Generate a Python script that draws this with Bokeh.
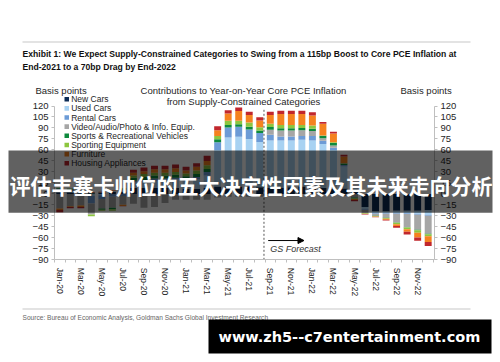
import numpy as np
from bokeh.plotting import figure
from bokeh.models import Range1d, LinearAxis, FixedTicker, BoxAnnotation, Label, Arrow, NormalHead
from bokeh.embed import file_html
from bokeh.resources import INLINE

months = ["Jan-20", "Feb-20", "Mar-20", "Apr-20", "May-20", "Jun-20", "Jul-20", "Aug-20", "Sep-20",
          "Oct-20", "Nov-20", "Dec-20", "Jan-21", "Feb-21", "Mar-21", "Apr-21", "May-21", "Jun-21",
          "Jul-21", "Aug-21", "Sep-21", "Oct-21", "Nov-21", "Dec-21", "Jan-22", "Feb-22", "Mar-22",
          "Apr-22", "May-22", "Jun-22", "Jul-22", "Aug-22", "Sep-22", "Oct-22", "Nov-22", "Dec-22"]

categories = ["New Cars", "Used Cars", "Rental Cars", "Video/Audio/Photo & Info. Equip.",
              "Sports & Recreational Vehicles", "Sporting Equipment", "Furniture", "Housing Appliances"]

new_cars = [2, 2, 1, 1, 2, 3, 3, 8, 8, 8, 8, 8, 7, 7, 8, 10, 10, 10, 10, 9, 8, 8, 9, 10,
            10, 8, 7, 7.5, 3, -18, -24, -24, -23, -23, -23, -22]
used_cars = [3, 2, 2, -3, -2, 1, 3, 8, 9, 10, 11, 12, 11, 13, 17, 50, 67, 68, 65, 62, 65, 65, 64, 64,
             63, 60, 53, 30, 5, -3, -2, -2, -3, -3.5, -4, -6.5]
rental_cars = [2, 2, 0, -10, -5, -4, -3, 2, 2, 3, 2, 2, 2, 3, 5, 10.5, 13.6, 13.6, 13, 12, 7.7, 5.5, 5.5, 5,
               6, 4.5, 3, 2, 1, -1, -1, -1, -1, -1, -1.5, -1.5]
video_audio = [-20, -17, -16, -15, -13, -15, -12, -13.5, -19, -18, -12.5, -8, -8, -8, -8, -5, -4, -4, -4, -4,
               7, 8, 8, 8, 7, 3.6, 3, -3, -5, -4, -3, -5.5, -12, -18, -20.5, -24.5]
sports_rec = [1, 1, 1, 0.5, -1.5, -2, 1, 4, 4, 4, 4, 4, 4, 4, 4, 4, 3.6, 3.6, 3.6, 3.6, 3.6, 3, 3, 3,
              3, 3.2, 3.5, 2, -1, -0.5, -0.5, -0.5, -0.5, -0.5, -0.5, -0.5]
sporting_eq = [0.5, 0.5, 0, -2.5, -1.5, -2, 1, 3, 4, 4, 4, 4, 4, 5, 5, 4.5, 5.5, 4.5, 6, 4.5, 4.5, 4.5, 4.5, 4,
               4.5, 0.5, 1, 0.5, -1, -0.5, -0.5, -1, -2, -2.3, -3.5, -2.7]
furniture = [-2, -1, -2, 0.5, 0.5, 0.5, -1.5, 4, 4, 4.5, 4.5, 5, 4, 5, 6, 8, 10, 13.6, 10, 9, 12, 15, 15, 15,
             13.6, 15.9, 12, 9, -1.5, -0.5, -0.5, -1.2, -2.5, -3.5, -6.5, -8]
housing_app = [-3, -1.5, -1.5, 0.5, 0.5, 0.5, -0.5, 4, 5, 5, 5, 5, 5, 5, 7, 5.5, 4.5, 4.5, 4.5, 4.5, 4.5, 4.5, 4.5, 4.5,
               4.5, 2.3, 2.3, 2.5, -1.5, -0.5, -0.5, -1.2, -2.4, -3.5, -4.5, -5.5]

series = [new_cars, used_cars, rental_cars, video_audio, sports_rec, sporting_eq, furniture, housing_app]
colors = ["#0c2c56", "#a8d2f2", "#6c9bd6", "#a6a6a6", "#0e8a3d", "#8dc63f", "#f5821f", "#c1272d"]

y_ticks = list(range(-90, 121, 15))
forecast_start = 19.4

FONT = "Liberation Sans"
W, H = 500, 362

# data area: x -0.5..35.6 spans page px 54..434 ; y -90..120 spans page px 259.3..105.5
XL, XR, PXL, PXR = -0.5, 35.6, 54.0, 434.0
YB, YT, PYB, PYT = -90.0, 120.0, 259.3, 105.5
kx = (XR - XL) / (PXR - PXL)
ky = (YT - YB) / (PYB - PYT)
x_range = Range1d(XL - PXL * kx, XR + (W - PXR) * kx)
y_range = Range1d(YB - (H - PYB) * ky, YT + PYT * ky)

p = figure(width=W, height=H, output_backend="svg", toolbar_location=None,
           x_range=x_range, y_range=y_range,
           min_border_left=0, min_border_right=0, min_border_top=0, min_border_bottom=0,
           x_axis_location=None, y_axis_location=None)
p.outline_line_color = None
p.grid.visible = False
p.background_fill_color = "white"
p.border_fill_color = "white"

x = np.arange(len(months))
pos_base = np.zeros(len(months))
neg_base = np.zeros(len(months))
for vals, col in zip(series, colors):
    v = np.array(vals, dtype=float)
    bottom = np.where(v >= 0, pos_base, neg_base + v)
    top = np.where(v >= 0, pos_base + v, neg_base)
    p.vbar(x=x, bottom=bottom, top=top, width=0.66, fill_color=col, line_color=None)
    pos_base = pos_base + np.clip(v, 0, None)
    neg_base = neg_base + np.clip(v, None, 0)

# forecast marker
p.segment(x0=[forecast_start], y0=[YB], x1=[forecast_start], y1=[117],
          line_color="#555555", line_dash="2 2", line_width=1)
p.add_layout(Arrow(end=NormalHead(size=6, fill_color="black", line_color="black"),
                   x_start=forecast_start + 0.4, y_start=-63.7, x_end=forecast_start + 3.8, y_end=-63.7,
                   line_color="black", line_width=1))
p.add_layout(Label(x=forecast_start + 0.6, y=-75.9, text="GS Forecast", text_font=FONT,
                   text_font_size="9px", text_font_style="italic", text_color="#333333",
                   text_baseline="middle", text_align="left"))

# axes (fixed inside the frame)
axis_col = "#bfbfbf"
xa = LinearAxis(fixed_location=YB, bounds=(XL, XR))
xa.ticker = FixedTicker(ticks=list(range(0, len(months), 2)),
                        minor_ticks=[i - 0.5 for i in range(len(months) + 1)])
xa.major_label_overrides = {i: months[i] for i in range(0, len(months), 2)}
xa.major_label_orientation = "vertical"
xa.major_tick_out = 0
xa.major_tick_in = 0
xa.minor_tick_out = 3
xa.minor_tick_in = 0
xa.minor_tick_line_color = axis_col
xa.axis_line_color = axis_col
xa.major_label_text_font = FONT
xa.major_label_text_font_size = "8.5px"
xa.major_label_text_color = "#262626"
xa.major_label_standoff = 5
p.add_layout(xa, "below")

la = LinearAxis(fixed_location=XL)
ra = LinearAxis(fixed_location=XR)
p.add_layout(la, "left")
p.add_layout(ra, "right")
for ax in (la, ra):
    ax.ticker = FixedTicker(ticks=y_ticks)
    ax.bounds = (YB, YT)
    ax.axis_line_color = axis_col
    ax.major_tick_line_color = axis_col
    ax.major_tick_out = 3
    ax.major_tick_in = 0
    ax.minor_tick_out = 0
    ax.minor_tick_in = 0
    ax.major_label_text_font = FONT
    ax.major_label_text_font_size = "9.5px"
    ax.major_label_text_color = "#262626"
    ax.major_label_standoff = 3


def lab(px, py, text, **kw):
    opts = dict(text_font=FONT, text_font_size="9.5px", text_color="#262626",
                text_baseline="middle", text_align="left")
    opts.update(kw)
    p.add_layout(Label(x=px, y=H - py, x_units="screen", y_units="screen", text=text, **opts))


def box(l, r, t, b, color, alpha=1.0):
    p.add_layout(BoxAnnotation(left=l, right=r, top=H - t, bottom=H - b,
                               left_units="screen", right_units="screen",
                               top_units="screen", bottom_units="screen",
                               fill_color=color, fill_alpha=alpha, line_color=None))


# header
box(22, 470, 41, 42, "#c8c8c8")
lab(22, 53.5, "Exhibit 1: We Expect Supply-Constrained Categories to Swing from a 115bp Boost to Core PCE Inflation at",
    text_font_size="8.6px", text_font_style="bold", text_color="#111111")
lab(22, 66.7, "End-2021 to a 70bp Drag by End-2022",
    text_font_size="8.6px", text_font_style="bold", text_color="#111111")
lab(35, 90, "Basis points")
lab(400, 90, "Basis points")
lab(243, 90, "Contributions to Year-on-Year Core PCE Inflation", text_align="center")
lab(243, 101, "from Supply-Constrained Categories", text_align="center")

# legend
for k, (name, col) in enumerate(zip(categories, colors)):
    cy = 98.7 + 9.15 * k
    box(64, 68.5, cy - 2.3, cy + 2.3, col)
    lab(70.7, cy, name, text_font_size="8.5px")

# footer
box(22, 470, 308, 309, "#c8c8c8")
lab(22, 317, "Source: Bureau of Economic Analysis, Goldman Sachs Global Investment Research",
    text_font_size="6.6px", text_color="#666666")

# overlay banner
box(8, 492, 150, 212.3, "black", 0.62)
lab(9, 184, "评估丰塞卡帅位的五大决定性因素及其未来走向分析", text_font="Noto Sans CJK SC",
    text_font_size="21px", text_font_style="bold", text_color="white")

# watermark
box(208, 491, 319, 353, "black")
lab(218, 336, "www.zh5--c7entertainment.com", text_font="DejaVu Sans",
    text_font_size="14.5px", text_font_style="bold", text_color="white")

open("out.html", "w").write(file_html(p, INLINE))
